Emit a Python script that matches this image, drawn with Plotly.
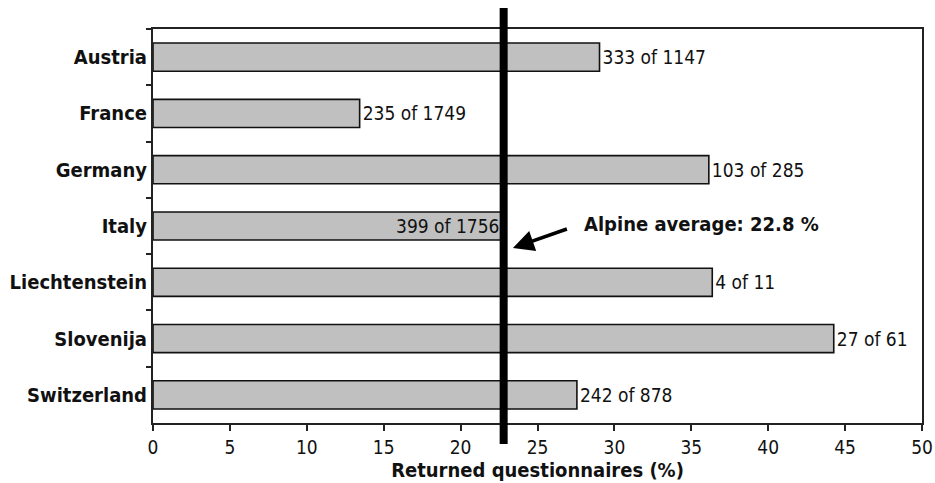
import plotly.graph_objects as go

countries = ["Austria", "France", "Germany", "Italy", "Liechtenstein", "Slovenija", "Switzerland"]
returned = [333, 235, 103, 399, 4, 27, 242]
sent = [1147, 1749, 285, 1756, 11, 61, 878]
alpine_average = 22.8
x_ticks = [0, 5, 10, 15, 20, 25, 30, 35, 40, 45, 50]

pct = [r / s * 100 for r, s in zip(returned, sent)]
labels = [f"{r} of {s}" for r, s in zip(returned, sent)]
positions = ["inside" if p < alpine_average else "outside" for p in pct]
positions[1] = "outside"  # France label sits outside its bar

FONT = "DejaVu Sans Condensed"
VAL_SIZE = 19

fig = go.Figure()
fig.add_trace(go.Bar(
    y=countries, x=pct, orientation="h",
    text=labels, textposition=positions,
    insidetextanchor="end",
    constraintext="none",
    textfont=dict(family=FONT, size=VAL_SIZE, color="#111"),
    insidetextfont=dict(family=FONT, size=VAL_SIZE, color="#111"),
    outsidetextfont=dict(family=FONT, size=VAL_SIZE, color="#111"),
    marker=dict(color="#c0c0c0", line=dict(color="#111", width=1.6)),
    width=0.5, cliponaxis=False, hoverinfo="skip",
))

fig.add_shape(type="line", xref="x", yref="paper",
              x0=alpine_average, x1=alpine_average, y0=-0.053, y1=1.053,
              line=dict(color="black", width=8))

fig.add_annotation(x=23.4, y=3.39, xref="x", yref="y", text=" ",
                   showarrow=True, ax=57, ay=-20, arrowhead=2, arrowsize=1.2,
                   arrowwidth=3.5, arrowcolor="black")
fig.add_annotation(x=27.9, y=2.97, xref="x", yref="y", xanchor="left",
                   text=f"<b>Alpine average: {alpine_average} %</b>",
                   showarrow=False, font=dict(family=FONT, size=20, color="#111"))

fig.update_layout(
    width=935, height=483,
    margin=dict(l=153, r=13, t=29, b=60, autoexpand=False),
    plot_bgcolor="white", paper_bgcolor="white",
    showlegend=False,
    font=dict(family=FONT, color="#111"),
)
fig.update_xaxes(
    automargin=False,
    range=[0, 50], tickvals=x_ticks, ticks="outside", ticklen=6, tickwidth=1.5,
    tickcolor="#222", showgrid=False, zeroline=False,
    showline=True, linecolor="#222", linewidth=2, mirror=True,
    tickfont=dict(family=FONT, size=VAL_SIZE, color="#111"),
    title=dict(text="<b>Returned questionnaires (%)</b>",
               font=dict(family=FONT, size=20, color="#111"), standoff=0),
)
fig.update_yaxes(
    automargin=False,
    categoryorder="array", categoryarray=countries, autorange="reversed",
    ticks="outside", tickson="boundaries", ticklen=5, tickwidth=1.5, tickcolor="#222",
    showgrid=False, showline=True, linecolor="#222", linewidth=2, mirror=True,
    tickfont=dict(family=FONT, size=20, color="#111", weight="bold"),
    ticklabelstandoff=0,
)

fig.write_html(
    "out.html",
    config={"displayModeBar": False},
    post_script="document.body.style.margin='0';document.body.style.overflow='hidden';",
)
